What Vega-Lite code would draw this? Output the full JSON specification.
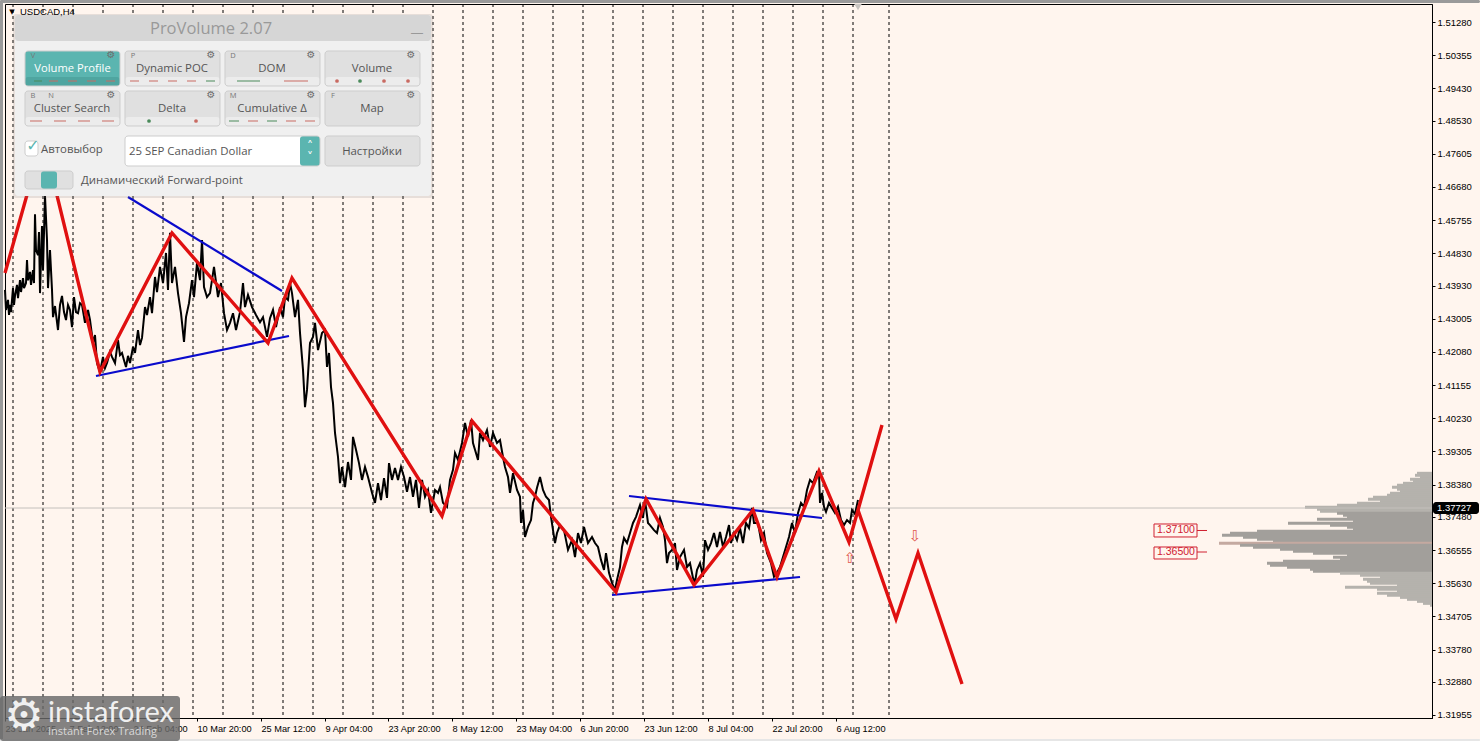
{"$schema":"https://vega.github.io/schema/vega-lite/v6.json","width":1427,"height":714,"autosize":"none","padding":{"left":5,"top":4,"right":48,"bottom":23},"background":"#fff5ee","config":{"view":{"stroke":"#000000","strokeWidth":1},"style":{"cell":{"fill":"#fff5ee"}}},"resolve":{"scale":{"x":"independent","y":"independent","color":"independent"}},"layer":[{"data":{"values":[{"vol":15,"p":1.38695,"a":"outer"},{"vol":17,"p":1.38639,"a":"outer"},{"vol":12,"p":1.38583,"a":"outer"},{"vol":22,"p":1.38528,"a":"outer"},{"vol":19,"p":1.38472,"a":"outer"},{"vol":29,"p":1.38416,"a":"outer"},{"vol":35,"p":1.3836,"a":"outer"},{"vol":40,"p":1.38304,"a":"outer"},{"vol":35,"p":1.38249,"a":"outer"},{"vol":32,"p":1.38193,"a":"outer"},{"vol":42,"p":1.38137,"a":"outer"},{"vol":45,"p":1.38081,"a":"outer"},{"vol":59,"p":1.38025,"a":"outer"},{"vol":64,"p":1.3797,"a":"outer"},{"vol":52,"p":1.37914,"a":"outer"},{"vol":75,"p":1.37858,"a":"outer"},{"vol":95,"p":1.37802,"a":"outer"},{"vol":127,"p":1.37746,"a":"outer"},{"vol":115,"p":1.37691,"a":"outer"},{"vol":112,"p":1.37635,"a":"outer"},{"vol":95,"p":1.37579,"a":"inner"},{"vol":89,"p":1.37523,"a":"inner"},{"vol":85,"p":1.37467,"a":"inner"},{"vol":115,"p":1.37412,"a":"inner"},{"vol":79,"p":1.37356,"a":"inner"},{"vol":144,"p":1.373,"a":"inner"},{"vol":102,"p":1.37244,"a":"inner"},{"vol":85,"p":1.37188,"a":"inner"},{"vol":79,"p":1.37133,"a":"inner"},{"vol":175,"p":1.37077,"a":"inner"},{"vol":202,"p":1.37021,"a":"inner"},{"vol":210,"p":1.36965,"a":"inner"},{"vol":189,"p":1.36909,"a":"inner"},{"vol":175,"p":1.36854,"a":"inner"},{"vol":159,"p":1.36798,"a":"inner"},{"vol":213,"p":1.36742,"a":"poc"},{"vol":192,"p":1.36686,"a":"inner"},{"vol":179,"p":1.3663,"a":"inner"},{"vol":152,"p":1.36575,"a":"inner"},{"vol":139,"p":1.36519,"a":"inner"},{"vol":119,"p":1.36463,"a":"inner"},{"vol":85,"p":1.36407,"a":"inner"},{"vol":99,"p":1.36351,"a":"inner"},{"vol":92,"p":1.36296,"a":"inner"},{"vol":149,"p":1.3624,"a":"inner"},{"vol":165,"p":1.36184,"a":"inner"},{"vol":162,"p":1.36128,"a":"inner"},{"vol":145,"p":1.36072,"a":"inner"},{"vol":122,"p":1.36017,"a":"inner"},{"vol":119,"p":1.35961,"a":"inner"},{"vol":92,"p":1.35905,"a":"outer"},{"vol":72,"p":1.35849,"a":"outer"},{"vol":52,"p":1.35793,"a":"outer"},{"vol":69,"p":1.35738,"a":"outer"},{"vol":65,"p":1.35682,"a":"outer"},{"vol":62,"p":1.35626,"a":"outer"},{"vol":35,"p":1.3557,"a":"outer"},{"vol":87,"p":1.35514,"a":"outer"},{"vol":55,"p":1.35459,"a":"outer"},{"vol":35,"p":1.35403,"a":"outer"},{"vol":55,"p":1.35347,"a":"outer"},{"vol":45,"p":1.35291,"a":"outer"},{"vol":32,"p":1.35235,"a":"outer"},{"vol":25,"p":1.3518,"a":"outer"},{"vol":15,"p":1.35124,"a":"outer"},{"vol":9,"p":1.35068,"a":"outer"},{"vol":2,"p":1.35012,"a":"outer"}]},"mark":{"type":"rule","strokeWidth":3},"encoding":{"x":{"field":"vol","type":"quantitative","scale":{"domain":[0,1427],"reverse":true,"nice":false,"zero":false},"axis":null},"x2":{"datum":0},"y":{"field":"p","type":"quantitative","scale":{"domain":[1.31871,1.51782],"nice":false,"zero":false},"axis":null},"color":{"field":"a","type":"nominal","scale":{"domain":["outer","inner","poc"],"range":["#b5b2ad","#a29f9b","#c4a9a0"]},"legend":null}}},{"encoding":{"x":{"field":"b","type":"quantitative","scale":{"domain":[5,1432],"nice":false,"zero":false},"axis":{"title":null,"grid":false,"values":[5,69,133,197,261,325,388,452,516,580,644,708,772,836],"labelExpr":"{'5':'23 Jan 2025','69':'7 Feb 12:00','133':'24 Feb 04:00','197':'10 Mar 20:00','261':'25 Mar 12:00','325':'9 Apr 04:00','388':'23 Apr 20:00','452':'8 May 12:00','516':'23 May 04:00','580':'6 Jun 20:00','644':'23 Jun 12:00','708':'8 Jul 04:00','772':'22 Jul 20:00','836':'6 Aug 12:00'}[datum.value]","labelAlign":"left","labelFont":"Liberation Sans","labelFontSize":9.2,"labelColor":"#000000","labelOverlap":false,"labelFlush":false,"labelBound":false,"labelPadding":3,"tickColor":"#000000","tickSize":3,"domainColor":"#000000"}},"y":{"field":"p","type":"quantitative","scale":{"domain":[1.31871,1.51782],"nice":false,"zero":false},"axis":{"orient":"right","title":null,"grid":false,"values":[1.31955,1.3288,1.3378,1.34705,1.3563,1.36555,1.3748,1.3838,1.39305,1.4023,1.41155,1.4208,1.43005,1.4393,1.4483,1.45755,1.4668,1.47605,1.4853,1.4943,1.50355,1.5128],"format":".5f","labelFont":"Liberation Sans","labelFontSize":9.5,"labelColor":"#000000","labelOverlap":false,"labelBound":false,"labelPadding":2,"tickColor":"#000000","tickSize":3,"domainColor":"#000000"}}},"layer":[{"data":{"values":[{"b":13},{"b":43},{"b":73},{"b":103},{"b":133},{"b":163},{"b":193},{"b":223},{"b":253},{"b":283},{"b":313},{"b":343},{"b":373},{"b":403},{"b":433},{"b":463},{"b":493},{"b":523},{"b":553},{"b":583},{"b":613},{"b":643},{"b":673},{"b":703},{"b":733},{"b":763},{"b":793},{"b":823},{"b":853},{"b":889}]},"mark":{"type":"rule","color":"#000000","strokeWidth":1,"strokeDash":[3,3]},"encoding":{"y":null}},{"data":{"values":[{"p":1.37727}]},"mark":{"type":"rule","color":"#c4c0bc","strokeWidth":1},"encoding":{"x":null}},{"data":{"values":[{"b":5,"p":1.4381},{"b":6,"p":1.4325},{"b":8,"p":1.4353},{"b":9,"p":1.4311},{"b":10,"p":1.4339},{"b":11,"p":1.4319},{"b":13,"p":1.4386},{"b":14,"p":1.4339},{"b":15,"p":1.4364},{"b":17,"p":1.4395},{"b":18,"p":1.4358},{"b":20,"p":1.4408},{"b":21,"p":1.4375},{"b":23,"p":1.4414},{"b":24,"p":1.4386},{"b":26,"p":1.44},{"b":27,"p":1.4464},{"b":28,"p":1.4408},{"b":30,"p":1.4431},{"b":31,"p":1.4395},{"b":33,"p":1.4436},{"b":34,"p":1.44},{"b":35,"p":1.4592},{"b":36,"p":1.4492},{"b":38,"p":1.4478},{"b":39,"p":1.4542},{"b":40,"p":1.4372},{"b":42,"p":1.4559},{"b":43,"p":1.4436},{"b":45,"p":1.4643},{"b":47,"p":1.452},{"b":48,"p":1.4386},{"b":50,"p":1.4492},{"b":52,"p":1.4381},{"b":53,"p":1.4305},{"b":55,"p":1.4336},{"b":58,"p":1.4269},{"b":60,"p":1.4339},{"b":62,"p":1.4364},{"b":64,"p":1.4319},{"b":66,"p":1.4297},{"b":68,"p":1.4339},{"b":70,"p":1.4325},{"b":72,"p":1.4277},{"b":74,"p":1.4361},{"b":76,"p":1.4319},{"b":78,"p":1.4316},{"b":80,"p":1.4344},{"b":82,"p":1.4339},{"b":85,"p":1.4289},{"b":88,"p":1.4325},{"b":90,"p":1.4297},{"b":93,"p":1.4233},{"b":95,"p":1.4255},{"b":97,"p":1.4177},{"b":100,"p":1.4152},{"b":103,"p":1.4194},{"b":105,"p":1.4163},{"b":107,"p":1.4177},{"b":110,"p":1.4208},{"b":112,"p":1.4194},{"b":115,"p":1.4177},{"b":118,"p":1.4241},{"b":120,"p":1.4199},{"b":122,"p":1.4205},{"b":124,"p":1.4185},{"b":126,"p":1.4166},{"b":128,"p":1.4197},{"b":130,"p":1.4177},{"b":133,"p":1.4222},{"b":135,"p":1.4205},{"b":138,"p":1.4269},{"b":140,"p":1.4227},{"b":142,"p":1.4247},{"b":145,"p":1.4333},{"b":147,"p":1.4311},{"b":150,"p":1.4361},{"b":152,"p":1.4316},{"b":155,"p":1.4417},{"b":157,"p":1.4375},{"b":160,"p":1.4445},{"b":163,"p":1.44},{"b":166,"p":1.4484},{"b":168,"p":1.4381},{"b":170,"p":1.454},{"b":172,"p":1.44},{"b":175,"p":1.4445},{"b":178,"p":1.4372},{"b":181,"p":1.4316},{"b":184,"p":1.4236},{"b":186,"p":1.4305},{"b":189,"p":1.4344},{"b":192,"p":1.4408},{"b":194,"p":1.4361},{"b":197,"p":1.4456},{"b":200,"p":1.4408},{"b":202,"p":1.452},{"b":204,"p":1.4389},{"b":207,"p":1.4361},{"b":210,"p":1.4372},{"b":214,"p":1.4445},{"b":218,"p":1.4361},{"b":221,"p":1.44},{"b":224,"p":1.4316},{"b":227,"p":1.4269},{"b":230,"p":1.4289},{"b":233,"p":1.4316},{"b":236,"p":1.4269},{"b":240,"p":1.4319},{"b":243,"p":1.44},{"b":245,"p":1.4333},{"b":248,"p":1.4367},{"b":252,"p":1.4333},{"b":256,"p":1.4311},{"b":260,"p":1.4291},{"b":263,"p":1.4305},{"b":267,"p":1.425},{"b":270,"p":1.4302},{"b":273,"p":1.4325},{"b":276,"p":1.4277},{"b":280,"p":1.4333},{"b":283,"p":1.4305},{"b":285,"p":1.4361},{"b":288,"p":1.4353},{"b":290,"p":1.44},{"b":292,"p":1.4372},{"b":295,"p":1.4305},{"b":298,"p":1.4353},{"b":300,"p":1.4261},{"b":303,"p":1.4158},{"b":305,"p":1.4054},{"b":307,"p":1.4102},{"b":310,"p":1.4233},{"b":313,"p":1.425},{"b":315,"p":1.4289},{"b":318,"p":1.4213},{"b":322,"p":1.4261},{"b":325,"p":1.4269},{"b":327,"p":1.4166},{"b":329,"p":1.4205},{"b":331,"p":1.411},{"b":333,"p":1.4065},{"b":335,"p":1.3982},{"b":338,"p":1.3915},{"b":340,"p":1.3842},{"b":342,"p":1.3887},{"b":345,"p":1.3831},{"b":348,"p":1.3901},{"b":351,"p":1.3851},{"b":353,"p":1.3971},{"b":356,"p":1.3935},{"b":359,"p":1.3898},{"b":362,"p":1.3851},{"b":365,"p":1.3887},{"b":368,"p":1.3859},{"b":372,"p":1.3815},{"b":375,"p":1.3787},{"b":378,"p":1.3842},{"b":381,"p":1.3795},{"b":384,"p":1.3856},{"b":387,"p":1.3801},{"b":389,"p":1.3898},{"b":392,"p":1.3851},{"b":395,"p":1.3884},{"b":398,"p":1.3851},{"b":401,"p":1.3887},{"b":404,"p":1.3859},{"b":407,"p":1.3818},{"b":410,"p":1.3859},{"b":413,"p":1.3804},{"b":416,"p":1.3851},{"b":419,"p":1.3773},{"b":422,"p":1.3851},{"b":425,"p":1.3804},{"b":428,"p":1.3823},{"b":431,"p":1.3759},{"b":435,"p":1.3823},{"b":438,"p":1.3815},{"b":440,"p":1.3831},{"b":443,"p":1.3787},{"b":447,"p":1.3776},{"b":450,"p":1.3851},{"b":453,"p":1.3879},{"b":455,"p":1.3926},{"b":458,"p":1.3907},{"b":462,"p":1.3954},{"b":465,"p":1.401},{"b":468,"p":1.3971},{"b":471,"p":1.4018},{"b":473,"p":1.3954},{"b":475,"p":1.3935},{"b":478,"p":1.3907},{"b":480,"p":1.3982},{"b":483,"p":1.3962},{"b":487,"p":1.399},{"b":490,"p":1.3943},{"b":493,"p":1.3982},{"b":497,"p":1.3954},{"b":500,"p":1.3962},{"b":503,"p":1.3915},{"b":505,"p":1.3887},{"b":508,"p":1.3859},{"b":510,"p":1.3815},{"b":513,"p":1.387},{"b":517,"p":1.3823},{"b":520,"p":1.3804},{"b":521,"p":1.3731},{"b":523,"p":1.3767},{"b":525,"p":1.3692},{"b":528,"p":1.372},{"b":531,"p":1.3739},{"b":533,"p":1.3787},{"b":535,"p":1.3804},{"b":537,"p":1.3829},{"b":540,"p":1.3859},{"b":543,"p":1.3823},{"b":546,"p":1.3804},{"b":549,"p":1.3795},{"b":551,"p":1.3748},{"b":553,"p":1.3711},{"b":555,"p":1.3675},{"b":557,"p":1.3703},{"b":560,"p":1.3725},{"b":564,"p":1.3711},{"b":568,"p":1.3656},{"b":572,"p":1.3683},{"b":575,"p":1.3636},{"b":578,"p":1.3703},{"b":581,"p":1.3675},{"b":584,"p":1.372},{"b":588,"p":1.3675},{"b":592,"p":1.3692},{"b":595,"p":1.3675},{"b":598,"p":1.3664},{"b":601,"p":1.3628},{"b":604,"p":1.36},{"b":606,"p":1.3647},{"b":609,"p":1.3592},{"b":612,"p":1.3564},{"b":615,"p":1.3544},{"b":617,"p":1.3572},{"b":620,"p":1.3608},{"b":622,"p":1.3664},{"b":624,"p":1.3689},{"b":627,"p":1.3675},{"b":630,"p":1.3703},{"b":633,"p":1.3731},{"b":636,"p":1.3748},{"b":640,"p":1.3781},{"b":643,"p":1.3745},{"b":645,"p":1.3795},{"b":648,"p":1.3731},{"b":650,"p":1.3725},{"b":654,"p":1.3711},{"b":657,"p":1.3703},{"b":660,"p":1.3745},{"b":663,"p":1.372},{"b":665,"p":1.3683},{"b":667,"p":1.3619},{"b":669,"p":1.3647},{"b":672,"p":1.3656},{"b":675,"p":1.3675},{"b":677,"p":1.36},{"b":680,"p":1.3636},{"b":684,"p":1.3656},{"b":687,"p":1.3608},{"b":690,"p":1.3619},{"b":693,"p":1.3578},{"b":695,"p":1.3566},{"b":697,"p":1.36},{"b":700,"p":1.3619},{"b":703,"p":1.3581},{"b":705,"p":1.3683},{"b":708,"p":1.3656},{"b":711,"p":1.3675},{"b":714,"p":1.3703},{"b":717,"p":1.3664},{"b":720,"p":1.3706},{"b":723,"p":1.3664},{"b":726,"p":1.3692},{"b":729,"p":1.3725},{"b":731,"p":1.3675},{"b":734,"p":1.3703},{"b":737,"p":1.3683},{"b":740,"p":1.3717},{"b":743,"p":1.3675},{"b":746,"p":1.3731},{"b":749,"p":1.3717},{"b":752,"p":1.3773},{"b":754,"p":1.3731},{"b":758,"p":1.3731},{"b":761,"p":1.3683},{"b":764,"p":1.3703},{"b":767,"p":1.3647},{"b":771,"p":1.3619},{"b":774,"p":1.3581},{"b":777,"p":1.3592},{"b":780,"p":1.3608},{"b":783,"p":1.3636},{"b":786,"p":1.3664},{"b":789,"p":1.3692},{"b":792,"p":1.3731},{"b":795,"p":1.3703},{"b":798,"p":1.3759},{"b":801,"p":1.3787},{"b":804,"p":1.3776},{"b":807,"p":1.3823},{"b":810,"p":1.3851},{"b":813,"p":1.3842},{"b":817,"p":1.3873},{"b":819,"p":1.387},{"b":820,"p":1.3787},{"b":822,"p":1.3815},{"b":824,"p":1.3776},{"b":826,"p":1.3762},{"b":829,"p":1.3787},{"b":832,"p":1.3773},{"b":835,"p":1.3759},{"b":838,"p":1.3776},{"b":841,"p":1.3739},{"b":844,"p":1.3725},{"b":847,"p":1.3739},{"b":850,"p":1.3731},{"b":852,"p":1.3767},{"b":855,"p":1.3756},{"b":858,"p":1.3795}]},"mark":{"type":"line","color":"#000000","strokeWidth":2,"interpolate":"linear"}},{"data":{"values":[{"l":"a","b":128,"p":1.464},{"l":"a","b":282,"p":1.43779},{"l":"b","b":96,"p":1.41408},{"l":"b","b":289,"p":1.42524},{"l":"c","b":612,"p":1.35301},{"l":"c","b":800,"p":1.35803},{"l":"d","b":629,"p":1.38062},{"l":"d","b":822,"p":1.37448}]},"mark":{"type":"line","color":"#0a0acc","strokeWidth":2.2},"encoding":{"detail":{"field":"l"}}},{"data":{"values":[{"l":"a","b":5,"p":1.44281},{"l":"a","b":43,"p":1.48045},{"l":"a","b":100,"p":1.4152},{"l":"a","b":172,"p":1.45396},{"l":"a","b":268,"p":1.42329},{"l":"a","b":292,"p":1.44141},{"l":"a","b":442,"p":1.37504},{"l":"a","b":472,"p":1.40153},{"l":"a","b":616,"p":1.35385},{"l":"a","b":646,"p":1.37978},{"l":"a","b":694,"p":1.3558},{"l":"a","b":753,"p":1.37672},{"l":"a","b":777,"p":1.35803},{"l":"a","b":819,"p":1.38759},{"l":"a","b":849,"p":1.36779},{"l":"a","b":882,"p":1.40042},{"l":"b","b":858,"p":1.37672},{"l":"b","b":896,"p":1.34632},{"l":"b","b":918,"p":1.36472},{"l":"b","b":962,"p":1.32819}]},"mark":{"type":"line","color":"#e01010","strokeWidth":3.4},"encoding":{"detail":{"field":"l"}}},{"data":{"values":[{"b":1154,"b1":1197,"p":1.37281,"p1":1.36919},{"b":1154,"b1":1197,"p":1.3664,"p1":1.36305}]},"mark":{"type":"rect","fillOpacity":0,"stroke":"#d02030","strokeWidth":1},"encoding":{"x2":{"field":"b1"},"y2":{"field":"p1"}}},{"data":{"values":[{"b":1197,"b1":1207,"p":1.371},{"b":1197,"b1":1207,"p":1.365}]},"mark":{"type":"rule","color":"#d02030","strokeWidth":1},"encoding":{"x2":{"field":"b1"}}},{"data":{"values":[{"b":1157,"p":1.371,"t":"1.37100"},{"b":1157,"p":1.365,"t":"1.36500"}]},"mark":{"type":"text","align":"left","baseline":"middle","font":"Liberation Sans","fontSize":10.5,"color":"#d02030"},"encoding":{"text":{"field":"t"}}},{"data":{"values":[{"b":850,"p":1.36333,"t":"⇧"},{"b":915,"p":1.36947,"t":"⇩"}]},"mark":{"type":"text","align":"center","baseline":"middle","font":"DejaVu Sans","fontSize":15,"color":"#e05a50"},"encoding":{"text":{"field":"t"}}}]},{"encoding":{"x":{"field":"u","type":"quantitative","scale":{"domain":[5,1432],"nice":false,"zero":false},"axis":null},"y":{"field":"v","type":"quantitative","scale":{"domain":[718,4],"nice":false,"zero":false},"axis":null}},"layer":[{"data":{"values":[{"u":0,"u2":1480,"v":0,"v2":3,"k":"frame"},{"u":0,"u2":3,"v":0,"v2":741,"k":"frame"},{"u":0,"u2":1480,"v":739,"v2":741,"k":"frameLight"},{"u":13,"u2":433,"v":14,"v2":198,"k":"shadow"},{"u":15,"u2":431,"v":15,"v2":196,"k":"panel"},{"u":15,"u2":431,"v":15,"v2":41,"k":"header"},{"u":25,"u2":120,"v":51,"v2":86,"k":"active"},{"u":125,"u2":220,"v":51,"v2":86,"k":"button"},{"u":225,"u2":320,"v":51,"v2":86,"k":"button"},{"u":325,"u2":420,"v":51,"v2":86,"k":"button"},{"u":25,"u2":120,"v":91,"v2":126,"k":"button"},{"u":125,"u2":220,"v":91,"v2":126,"k":"button"},{"u":225,"u2":320,"v":91,"v2":126,"k":"button"},{"u":325,"u2":420,"v":91,"v2":126,"k":"button"},{"u":25,"u2":120,"v":77,"v2":86,"k":"activeStrip"},{"u":125,"u2":220,"v":77,"v2":86,"k":"strip"},{"u":225,"u2":320,"v":77,"v2":86,"k":"strip"},{"u":325,"u2":420,"v":77,"v2":86,"k":"strip"},{"u":25,"u2":120,"v":117,"v2":126,"k":"strip"},{"u":125,"u2":220,"v":117,"v2":126,"k":"strip"},{"u":225,"u2":320,"v":117,"v2":126,"k":"strip"},{"u":25,"u2":38,"v":141,"v2":156,"k":"white"},{"u":125,"u2":320,"v":136,"v2":166,"k":"white"},{"u":300,"u2":320,"v":136,"v2":166,"k":"active"},{"u":325,"u2":420,"v":136,"v2":166,"k":"button"},{"u":25,"u2":73,"v":171,"v2":189,"k":"button"},{"u":41,"u2":57,"v":171,"v2":189,"k":"active"},{"u":0,"u2":180,"v":696,"v2":741,"k":"logo"},{"u":1433,"u2":1479,"v":502,"v2":514,"k":"tag"}]},"mark":{"type":"rect","cornerRadius":3},"encoding":{"x2":{"field":"u2"},"y2":{"field":"v2"},"color":{"field":"k","type":"nominal","scale":{"domain":["frame","frameLight","shadow","panel","header","active","button","activeStrip","strip","white","logo","tag","g","r"],"range":["#9a9a9a","#e6e6e6","rgba(120,120,120,0.18)","#f0f0f0","#d6d6d6","#5bb5b0","#e0e0e0","#4fa5a0","#ececec","#ffffff","rgba(105,105,105,0.82)","#000000","#4a8a5a","#c96a62"]},"legend":null}}},{"data":{"values":[{"u":25,"u2":120,"v":51,"v2":86},{"u":125,"u2":220,"v":51,"v2":86},{"u":225,"u2":320,"v":51,"v2":86},{"u":325,"u2":420,"v":51,"v2":86},{"u":25,"u2":120,"v":91,"v2":126},{"u":125,"u2":220,"v":91,"v2":126},{"u":225,"u2":320,"v":91,"v2":126},{"u":325,"u2":420,"v":91,"v2":126},{"u":25,"u2":38,"v":141,"v2":156},{"u":125,"u2":320,"v":136,"v2":166},{"u":325,"u2":420,"v":136,"v2":166},{"u":25,"u2":73,"v":171,"v2":189}]},"mark":{"type":"rect","cornerRadius":3,"fillOpacity":0,"stroke":"#cdcdcd","strokeWidth":1},"encoding":{"x2":{"field":"u2"},"y2":{"field":"v2"}}},{"data":{"values":[{"u":34,"u2":42,"v":81,"k":"g"},{"u":49,"u2":58,"v":81,"k":"r"},{"u":68,"u2":77,"v":81,"k":"r"},{"u":87,"u2":96,"v":81,"k":"r"},{"u":106,"u2":115,"v":81,"k":"r"},{"u":130,"u2":139,"v":81,"k":"r"},{"u":149,"u2":158,"v":81,"k":"r"},{"u":168,"u2":177,"v":81,"k":"r"},{"u":187,"u2":196,"v":81,"k":"r"},{"u":206,"u2":215,"v":81,"k":"g"},{"u":237,"u2":260,"v":81,"k":"g"},{"u":284,"u2":308,"v":81,"k":"r"},{"u":30,"u2":42,"v":121,"k":"r"},{"u":54,"u2":66,"v":121,"k":"r"},{"u":78,"u2":90,"v":121,"k":"r"},{"u":102,"u2":114,"v":121,"k":"r"},{"u":229,"u2":239,"v":121,"k":"g"},{"u":248,"u2":258,"v":121,"k":"r"},{"u":267,"u2":277,"v":121,"k":"g"},{"u":286,"u2":296,"v":121,"k":"r"},{"u":305,"u2":315,"v":121,"k":"r"}]},"mark":{"type":"rule","strokeWidth":1},"encoding":{"x2":{"field":"u2"},"color":{"field":"k","type":"nominal","legend":null}}},{"data":{"values":[{"u":337,"v":81,"k":"r"},{"u":360,"v":81,"k":"g"},{"u":384,"v":81,"k":"r"},{"u":408,"v":81,"k":"r"},{"u":149,"v":121,"k":"g"},{"u":196,"v":121,"k":"r"}]},"mark":{"type":"point","filled":true,"size":14,"opacity":1},"encoding":{"color":{"field":"k","type":"nominal","legend":null}}},{"data":{"values":[{"u":858,"v":7}]},"mark":{"type":"point","shape":"triangle-down","filled":true,"size":60,"color":"#c8c4c0","opacity":1}},{"data":{"values":[{"u":111,"v":55},{"u":211,"v":55},{"u":311,"v":55},{"u":411,"v":55},{"u":111,"v":95},{"u":211,"v":95},{"u":311,"v":95},{"u":411,"v":95}]},"mark":{"type":"text","text":"⚙","font":"DejaVu Sans","fontSize":10,"color":"#6e6e6e","align":"center","baseline":"middle"}},{"data":{"values":[{"u":33,"v":56,"t":"V"},{"u":133,"v":56,"t":"P"},{"u":233,"v":56,"t":"D"},{"u":33,"v":96,"t":"B"},{"u":51,"v":96,"t":"N"},{"u":233,"v":96,"t":"M"},{"u":333,"v":96,"t":"F"}]},"mark":{"type":"text","font":"Open Sans","fontSize":7.5,"color":"#777777","align":"center","baseline":"middle"},"encoding":{"text":{"field":"t"}}},{"data":{"values":[{"u":172,"v":69,"t":"Dynamic POC"},{"u":272,"v":69,"t":"DOM"},{"u":372,"v":69,"t":"Volume"},{"u":72,"v":109,"t":"Cluster Search"},{"u":172,"v":109,"t":"Delta"},{"u":272,"v":109,"t":"Cumulative Δ"},{"u":372,"v":109,"t":"Map"},{"u":372,"v":152,"t":"Настройки"}]},"mark":{"type":"text","font":"Open Sans","fontSize":11.4,"color":"#555555","align":"center","baseline":"middle"},"encoding":{"text":{"field":"t"}}},{"data":{"values":[{"u":72.5,"v":69,"t":"Volume Profile"}]},"mark":{"type":"text","font":"Open Sans","fontSize":11.2,"color":"#ffffff","align":"center","baseline":"middle"},"encoding":{"text":{"field":"t"}}},{"data":{"values":[{"u":41,"v":150,"t":"Автовыбор"},{"u":129,"v":152,"t":"25 SEP Canadian Dollar"},{"u":81,"v":181,"t":"Динамический Forward-point"}]},"mark":{"type":"text","font":"Open Sans","fontSize":11.4,"color":"#555555","align":"left","baseline":"middle"},"encoding":{"text":{"field":"t"}}},{"data":{"values":[{"u":211,"v":29,"t":"ProVolume 2.07"}]},"mark":{"type":"text","font":"Open Sans","fontSize":16.5,"color":"#999999","align":"center","baseline":"middle"},"encoding":{"text":{"field":"t"}}},{"data":{"values":[{"u":417,"v":33,"t":"—"}]},"mark":{"type":"text","font":"Open Sans","fontSize":13,"color":"#999999","align":"center","baseline":"middle"},"encoding":{"text":{"field":"t"}}},{"data":{"values":[{"u":33,"v":146,"t":"✓"}]},"mark":{"type":"text","font":"DejaVu Sans","fontSize":16,"color":"#5bb5b0","align":"center","baseline":"middle"},"encoding":{"text":{"field":"t"}}},{"data":{"values":[{"u":310,"v":146,"t":"˄"},{"u":310,"v":157,"t":"˅"}]},"mark":{"type":"text","font":"DejaVu Sans","fontSize":12,"color":"#ffffff","align":"center","baseline":"middle"},"encoding":{"text":{"field":"t"}}},{"data":{"values":[{"u":20,"v":12,"t":"USDCAD,H4"}]},"mark":{"type":"text","font":"Liberation Sans","fontSize":9.5,"color":"#000000","align":"left","baseline":"middle"},"encoding":{"text":{"field":"t"}}},{"data":{"values":[{"u":12,"v":12,"t":"▼"}]},"mark":{"type":"text","font":"DejaVu Sans","fontSize":7,"color":"#000000","align":"center","baseline":"middle"},"encoding":{"text":{"field":"t"}}},{"data":{"values":[{"u":24,"v":717,"t":"⚙"}]},"mark":{"type":"text","font":"DejaVu Sans","fontSize":44,"color":"#f0f0f0","align":"center","baseline":"middle"},"encoding":{"text":{"field":"t"}}},{"data":{"values":[{"u":48,"v":713,"t":"instaforex"}]},"mark":{"type":"text","font":"Lato","fontSize":29,"color":"#f0f0f0","align":"left","baseline":"middle"},"encoding":{"text":{"field":"t"}}},{"data":{"values":[{"u":48,"v":732,"t":"Instant Forex Trading"}]},"mark":{"type":"text","font":"Open Sans","fontSize":11,"color":"#d8d8d8","align":"left","baseline":"middle"},"encoding":{"text":{"field":"t"}}},{"data":{"values":[{"u":1437,"v":508,"t":"1.37727"}]},"mark":{"type":"text","font":"Liberation Sans","fontSize":9.5,"color":"#ffffff","align":"left","baseline":"middle"},"encoding":{"text":{"field":"t"}}}]}]}
